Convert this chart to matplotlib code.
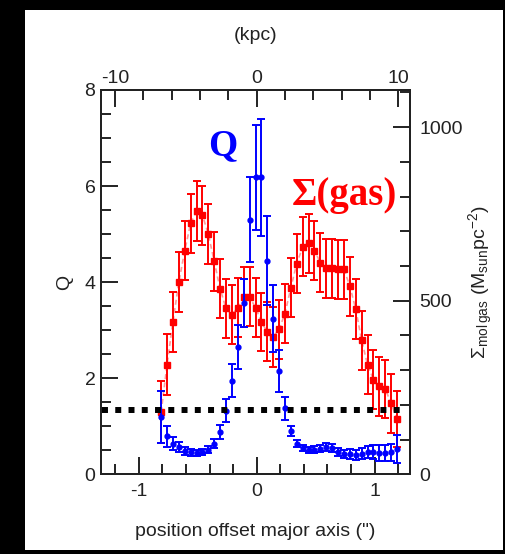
import matplotlib
matplotlib.use("Agg")
import matplotlib.pyplot as plt
from matplotlib.patches import Rectangle
from matplotlib.ticker import MultipleLocator, FixedLocator

plt.rcParams['font.family'] = ['Liberation Sans', 'DejaVu Sans']
plt.rcParams['axes.unicode_minus'] = False
plt.rcParams['mathtext.fontset'] = 'custom'
plt.rcParams['mathtext.rm'] = 'Liberation Sans'
plt.rcParams['mathtext.it'] = 'Liberation Sans:italic'

# ===== data =====
# position offset along major axis (arcsec)
offset = [-0.81, -0.76, -0.71, -0.66, -0.61, -0.56, -0.51, -0.46, -0.41, -0.36,
          -0.31, -0.26, -0.21, -0.16, -0.11, -0.06, -0.01, 0.04, 0.09, 0.14,
          0.19, 0.24, 0.29, 0.34, 0.39, 0.44, 0.49, 0.54, 0.59, 0.64,
          0.69, 0.74, 0.79, 0.84, 0.89, 0.94, 0.99, 1.04, 1.09, 1.14, 1.19]

# molecular gas surface density (Msun pc^-2)
sigma_gas = [179, 316, 439, 554, 644, 723, 758, 746, 692, 613,
             534, 478, 460, 480, 511, 511, 480, 439, 410, 396,
             418, 463, 538, 607, 655, 665, 644, 610, 593, 593,
             591, 591, 542, 476, 386, 316, 273, 253, 246, 204, 160]
sigma_err = [89, 87, 86, 86, 85, 85, 86, 85, 86, 85,
             85, 84, 85, 85, 86, 85, 85, 84, 85, 86,
             85, 85, 86, 85, 85, 86, 85, 85, 84, 84,
             85, 85, 85, 86, 85, 85, 84, 85, 84, 85, 80]

# Toomre Q
q_val = [1.19, 0.79, 0.64, 0.57, 0.48, 0.46, 0.44, 0.46, 0.51, 0.64,
         0.88, 1.32, 1.95, 2.65, 3.57, 5.30, 6.18, 6.18, 4.45, 3.24,
         2.15, 1.37, 0.90, 0.64, 0.55, 0.51, 0.51, 0.53, 0.57, 0.55,
         0.46, 0.42, 0.42, 0.40, 0.43, 0.46, 0.46, 0.44, 0.44, 0.46, 0.53]
q_err = [0.54, 0.22, 0.14, 0.10, 0.08, 0.07, 0.06, 0.06, 0.07, 0.09,
         0.14, 0.24, 0.35, 0.46, 0.50, 0.89, 1.10, 1.21, 0.92, 0.70,
         0.44, 0.24, 0.10, 0.08, 0.07, 0.06, 0.07, 0.07, 0.08, 0.08,
         0.08, 0.09, 0.10, 0.10, 0.12, 0.13, 0.14, 0.16, 0.17, 0.18, 0.29]

q_crit = 1.33
kpc_per_arcsec = 10 / 1.2
kpc_major = [-10, 0, 10]
kpc_minor = [-8, -6, -4, -2, 2, 4, 6, 8]

ink = '#222222'

fig = plt.figure(figsize=(5.05, 5.54), dpi=100, facecolor='black')
# white page inside the dark frame
fig.patches.append(Rectangle((25 / 505, 4 / 554), 478 / 505, 540 / 554,
                             transform=fig.transFigure, facecolor='white',
                             edgecolor='none', zorder=-10))

ax = fig.add_axes([101 / 505, 79.7 / 554, 309 / 505, 384.3 / 554])
ax2 = ax.twinx()
ax.set_zorder(ax2.get_zorder() + 1)
ax.patch.set_visible(False)

ax.set_xlim(-1.32, 1.30)
ax.set_ylim(0, 8)
ax2.set_ylim(0, 1107)

# Sigma(gas): red squares
ax2.plot(offset, sigma_gas, ls=(0, (3, 2)), color='#ff9a9a', lw=1.2, zorder=1)
ax2.errorbar(offset, sigma_gas, yerr=sigma_err, fmt='s', color='red', ms=4.5,
             elinewidth=1.4, capsize=3, capthick=1.4, zorder=2)

# Q: blue dots
ax.errorbar(offset, q_val, yerr=q_err, fmt='o', color='blue', ms=3.5,
            elinewidth=1.4, capsize=3, capthick=1.4, zorder=3)

# critical Q
ax.axhline(q_crit, xmin=0.004, xmax=0.981, color='black', lw=4.3,
           ls=(0, (1, 1.22)), zorder=10)

ax.text(-0.288, 6.85, 'Q', color='blue', fontsize=27, fontweight='bold',
        family='Liberation Serif', ha='center', va='center')
ax.text(0.746, 5.80, 'Σ(gas)', color='red', fontsize=28, fontweight='bold',
        family='Liberation Serif', ha='center', va='center')

# ticks
ax.xaxis.set_major_locator(MultipleLocator(1))
ax.xaxis.set_minor_locator(MultipleLocator(0.2))
ax.yaxis.set_major_locator(MultipleLocator(2))
ax.yaxis.set_minor_locator(MultipleLocator(0.5))
ax2.yaxis.set_major_locator(MultipleLocator(500))
ax2.yaxis.set_minor_locator(MultipleLocator(100))

secax = ax.secondary_xaxis('top', functions=(lambda x: x * kpc_per_arcsec,
                                             lambda k: k / kpc_per_arcsec))
secax.xaxis.set_major_locator(FixedLocator(kpc_major))
secax.xaxis.set_minor_locator(FixedLocator(kpc_minor))

for a in (ax, ax2, secax):
    a.tick_params(which='both', direction='in', width=1.4, color=ink,
                  labelcolor=ink, labelsize=14)
    a.tick_params(which='major', length=12)
    a.tick_params(which='minor', length=7.5)
ax.tick_params(axis='x', pad=6)
ax.tick_params(axis='y', pad=4)
ax2.tick_params(axis='y', pad=7)
secax.tick_params(axis='x', pad=2.5)

for a in (ax, ax2):
    for s in a.spines.values():
        s.set_linewidth(1.4)
        s.set_color(ink)
secax.spines['top'].set_linewidth(1.4)
secax.spines['top'].set_color(ink)

ax.set_xlabel('position offset major axis (")', fontsize=14, color=ink, labelpad=17)
ax.set_ylabel('Q', fontsize=14, color=ink, labelpad=8)
secax.set_xlabel('(kpc)', fontsize=14, color=ink, labelpad=21)
ax2.set_ylabel(r'$\Sigma_{\rm mol\,gas}$ (M$_{\rm sun}$pc$^{-2}$)', fontsize=14,
               color=ink, labelpad=3)

fig.savefig('out.png', dpi=100, facecolor=fig.get_facecolor())
